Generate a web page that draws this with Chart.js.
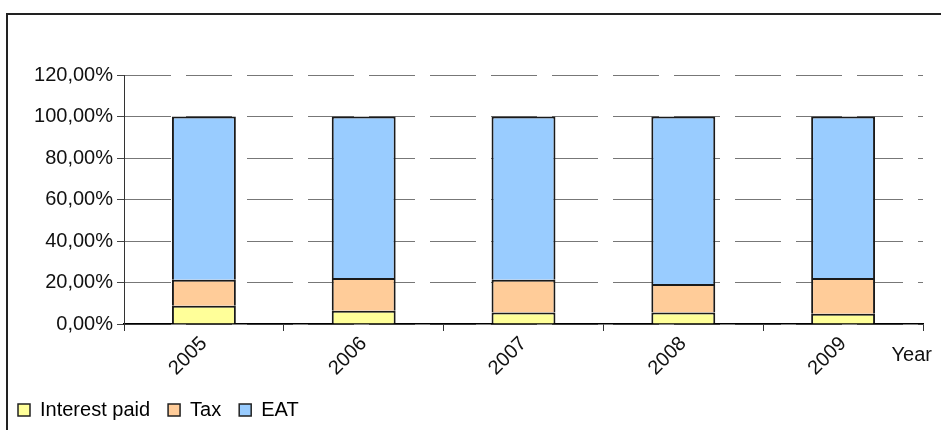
<!DOCTYPE html>
<html lang="en">
<head>
    <meta charset="UTF-8">
    <title>Interest paid, Tax, EAT</title>
    <script src="https://cdn.jsdelivr.net/npm/chart.js"></script>
    <style>
        body {
            margin: 0;
            padding: 0;
            background-color: #fff;
            overflow: hidden;
        }
        .frame {
            position: absolute;
            left: 6px;
            top: 13px;
            width: 1000px;
            height: 1000px;
            border: 2px solid #222;
        }
        .wrap {
            position: absolute;
            left: 0;
            top: 0;
            width: 941px;
            height: 430px;
        }
    </style>
</head>
<body>

<div class="frame"></div>
<div class="wrap">
    <canvas id="shareChart" width="941" height="430"></canvas>
</div>

<script>
    // values, in %
    const years = ['2005', '2006', '2007', '2008', '2009'];
    const interestPaid = [8.8, 6.4, 5.6, 5.6, 5.0];
    const tax = [12.5, 15.8, 15.7, 13.7, 17.2];
    const eat = [78.7, 77.8, 78.7, 80.7, 77.8];
    const yTicks = [0, 20, 40, 60, 80, 100, 120];

    const FONT = 'Liberation Sans, Arial, sans-serif';

    // draws the "Year" caption at the right end of the category axis
    const yearLabel = {
        id: 'yearLabel',
        afterDraw(chart) {
            const ctx = chart.ctx;
            const area = chart.chartArea;
            ctx.save();
            ctx.font = '20px ' + FONT;
            ctx.fillStyle = '#111';
            ctx.textAlign = 'right';
            ctx.textBaseline = 'alphabetic';
            ctx.fillText('Year', area.right + 9, area.bottom + 37);
            ctx.restore();
        }
    };

    function pct(v) {
        return v.toFixed(2).replace('.', ',') + '%';
    }

    function plotChart() {
        const ctx = document.getElementById('shareChart').getContext('2d');
        new Chart(ctx, {
            type: 'bar',
            data: {
                labels: years,
                datasets: [
                    {
                        label: 'Interest paid',
                        data: interestPaid,
                        backgroundColor: '#FFFF99',
                    },
                    {
                        label: 'Tax',
                        data: tax,
                        backgroundColor: '#FFCC99',
                    },
                    {
                        label: 'EAT',
                        data: eat,
                        backgroundColor: '#99CCFF',
                    }
                ]
            },
            options: {
                responsive: false,
                animation: false,
                layout: {
                    padding: { left: 0, right: 18, top: 75, bottom: 0 }
                },
                datasets: {
                    bar: {
                        borderColor: '#1a1a1a',
                        borderWidth: 2,
                        barPercentage: 1,
                        categoryPercentage: 0.4
                    }
                },
                scales: {
                    x: {
                        stacked: true,
                        grid: {
                            offset: true,
                            drawOnChartArea: false,
                            drawTicks: true,
                            tickLength: 7,
                            tickColor: '#333'
                        },
                        border: { display: true, color: '#000', width: 1.5 },
                        ticks: {
                            maxRotation: 45,
                            minRotation: 45,
                            color: '#111',
                            padding: 1,
                            font: { family: FONT, size: 20 }
                        },
                        afterFit(scale) { scale.height = 58; }
                    },
                    y: {
                        stacked: true,
                        min: 0,
                        max: 120,
                        afterBuildTicks(scale) {
                            scale.ticks = yTicks.map(v => ({ value: v }));
                        },
                        grid: {
                            color: '#777',
                            lineWidth: 1,
                            tickLength: 7,
                            tickColor: '#444'
                        },
                        border: { display: true, color: '#333', width: 1, dash: [46, 15] },
                        ticks: {
                            color: '#111',
                            padding: 4,
                            font: { family: FONT, size: 20 },
                            callback: v => pct(v)
                        },
                        afterFit(scale) { scale.width = 124; }
                    }
                },
                plugins: {
                    legend: {
                        position: 'bottom',
                        align: 'start',
                        labels: {
                            boxWidth: 12,
                            boxHeight: 12,
                            padding: 18,
                            color: '#111',
                            font: { family: FONT, size: 20 },
                            generateLabels(chart) {
                                return chart.data.datasets.map((ds, i) => ({
                                    text: ds.label,
                                    fillStyle: ds.backgroundColor,
                                    strokeStyle: '#222',
                                    lineWidth: 1.5,
                                    datasetIndex: i,
                                    hidden: false
                                }));
                            }
                        }
                    },
                    tooltip: { enabled: false }
                }
            },
            plugins: [yearLabel]
        });
    }

    document.addEventListener('DOMContentLoaded', plotChart);
</script>

</body>
</html>
